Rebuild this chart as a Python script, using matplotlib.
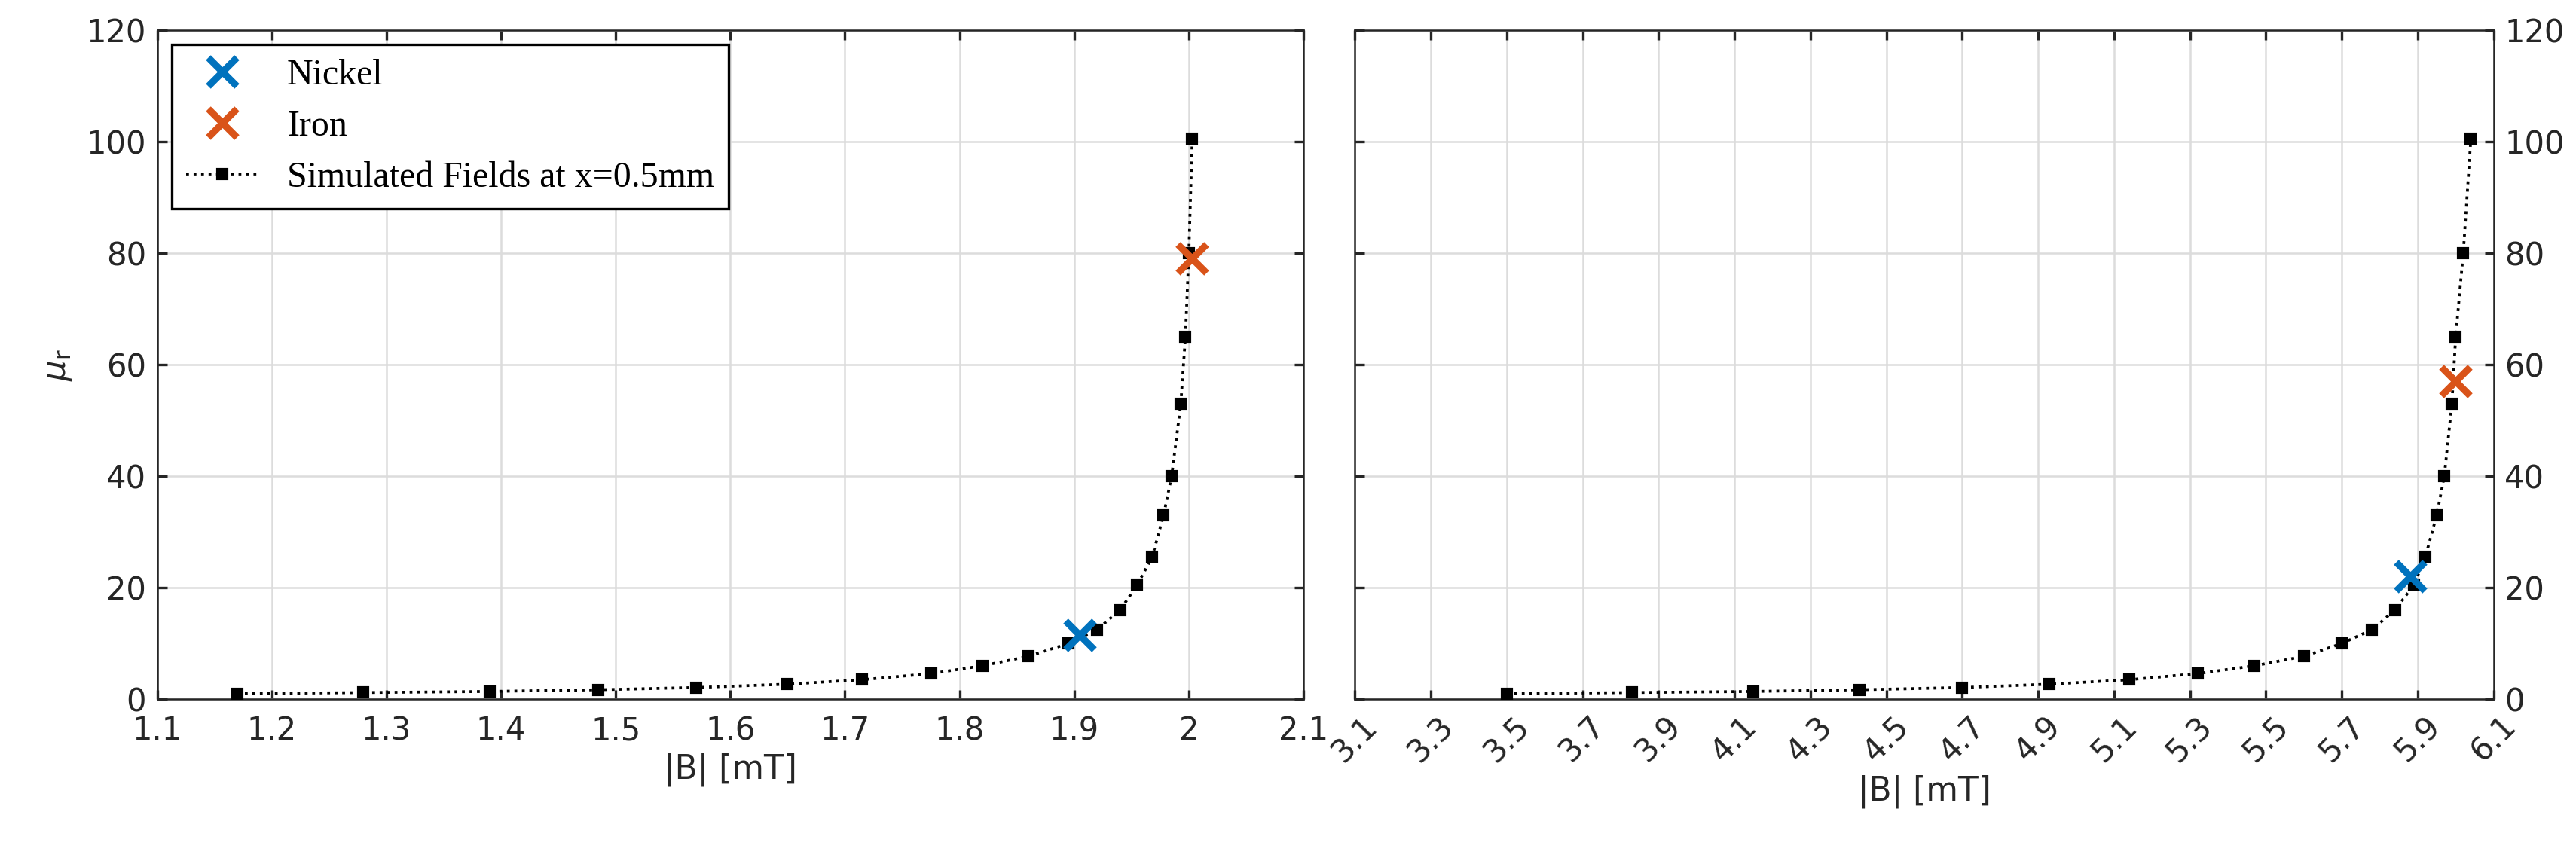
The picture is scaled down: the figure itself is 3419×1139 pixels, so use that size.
import numpy as np
import matplotlib.pyplot as plt

mu_sim = [1, 1.2, 1.4, 1.7, 2.1, 2.7, 3.5, 4.6, 6, 7.7, 10, 12.5, 16, 20.5, 25.5, 33, 40, 53, 65, 80, 100.5]
b_left = [1.17, 1.28, 1.39, 1.485, 1.57, 1.65, 1.715, 1.775, 1.82, 1.86, 1.895, 1.92, 1.94, 1.955,
          1.968, 1.978, 1.985, 1.993, 1.997, 2.0, 2.003]
b_right = [3.5, 3.83, 4.15, 4.43, 4.7, 4.93, 5.14, 5.32, 5.47, 5.6, 5.7, 5.78, 5.84, 5.89,
           5.92, 5.95, 5.97, 5.99, 6.0, 6.02, 6.04]
nickel_left = (1.905, 11.5)
iron_left = (2.003, 79)
nickel_right = (5.88, 22)
iron_right = (6.0, 57)

blue = "#0072BD"
orange = "#D95319"
plt.rcParams["font.family"] = "DejaVu Sans"

fig = plt.figure(figsize=(11.397, 3.797), dpi=300)
ax1 = fig.add_axes([0.061, 0.185, 0.445, 0.78])
ax2 = fig.add_axes([0.526, 0.185, 0.442, 0.78])

for ax, bx, ni, fe in [(ax1, b_left, nickel_left, iron_left), (ax2, b_right, nickel_right, iron_right)]:
    ax.plot(*ni, "x", color=blue, ms=9, mew=2.2, label="Nickel", zorder=4)
    ax.plot(*fe, "x", color=orange, ms=9, mew=2.2, label="Iron", zorder=4)
    ax.plot(bx, mu_sim, ":", color="black", lw=0.9, marker="s", ms=3, label="Simulated Fields at x=0.5mm", zorder=3)
    ax.set_ylim(0, 120)
    ax.set_yticks(np.arange(0, 121, 20))
    ax.grid(True, color="#dcdcdc", lw=0.6)
    ax.tick_params(direction="in", labelsize=10, colors="#262626", length=3)
    ax.set_xlabel("|B| [mT]", fontsize=10.5, color="#262626", labelpad=2)
    for s in ax.spines.values():
        s.set_color("#262626")
        s.set_linewidth(0.6)

ax1.set_xlim(1.1, 2.1)
ax1.set_xticks(np.arange(1.1, 2.11, 0.1))
ax1.set_xticklabels(["1.1", "1.2", "1.3", "1.4", "1.5", "1.6", "1.7", "1.8", "1.9", "2", "2.1"])
ax1.set_ylabel(r"$\mu_\mathrm{r}$", fontsize=10.5, color="#262626")
ax1.tick_params(right=True, top=True)
ax1.tick_params(axis="x", pad=5)

ax2.set_xlim(3.1, 6.1)
ticks = np.arange(3.1, 6.11, 0.2)
ax2.set_xticks(ticks)
ax2.set_xticklabels([f"{t:.1f}" for t in ticks], rotation=45)
ax2.yaxis.tick_right()
ax2.tick_params(left=True, top=True, right=True)

leg = ax1.legend(loc="upper left", prop={"family": "Liberation Serif", "size": 11.5},
                 fancybox=False, edgecolor="black", framealpha=1, borderaxespad=0.4)
leg.get_frame().set_linewidth(0.8)

fig.savefig("out.png", dpi=300)
